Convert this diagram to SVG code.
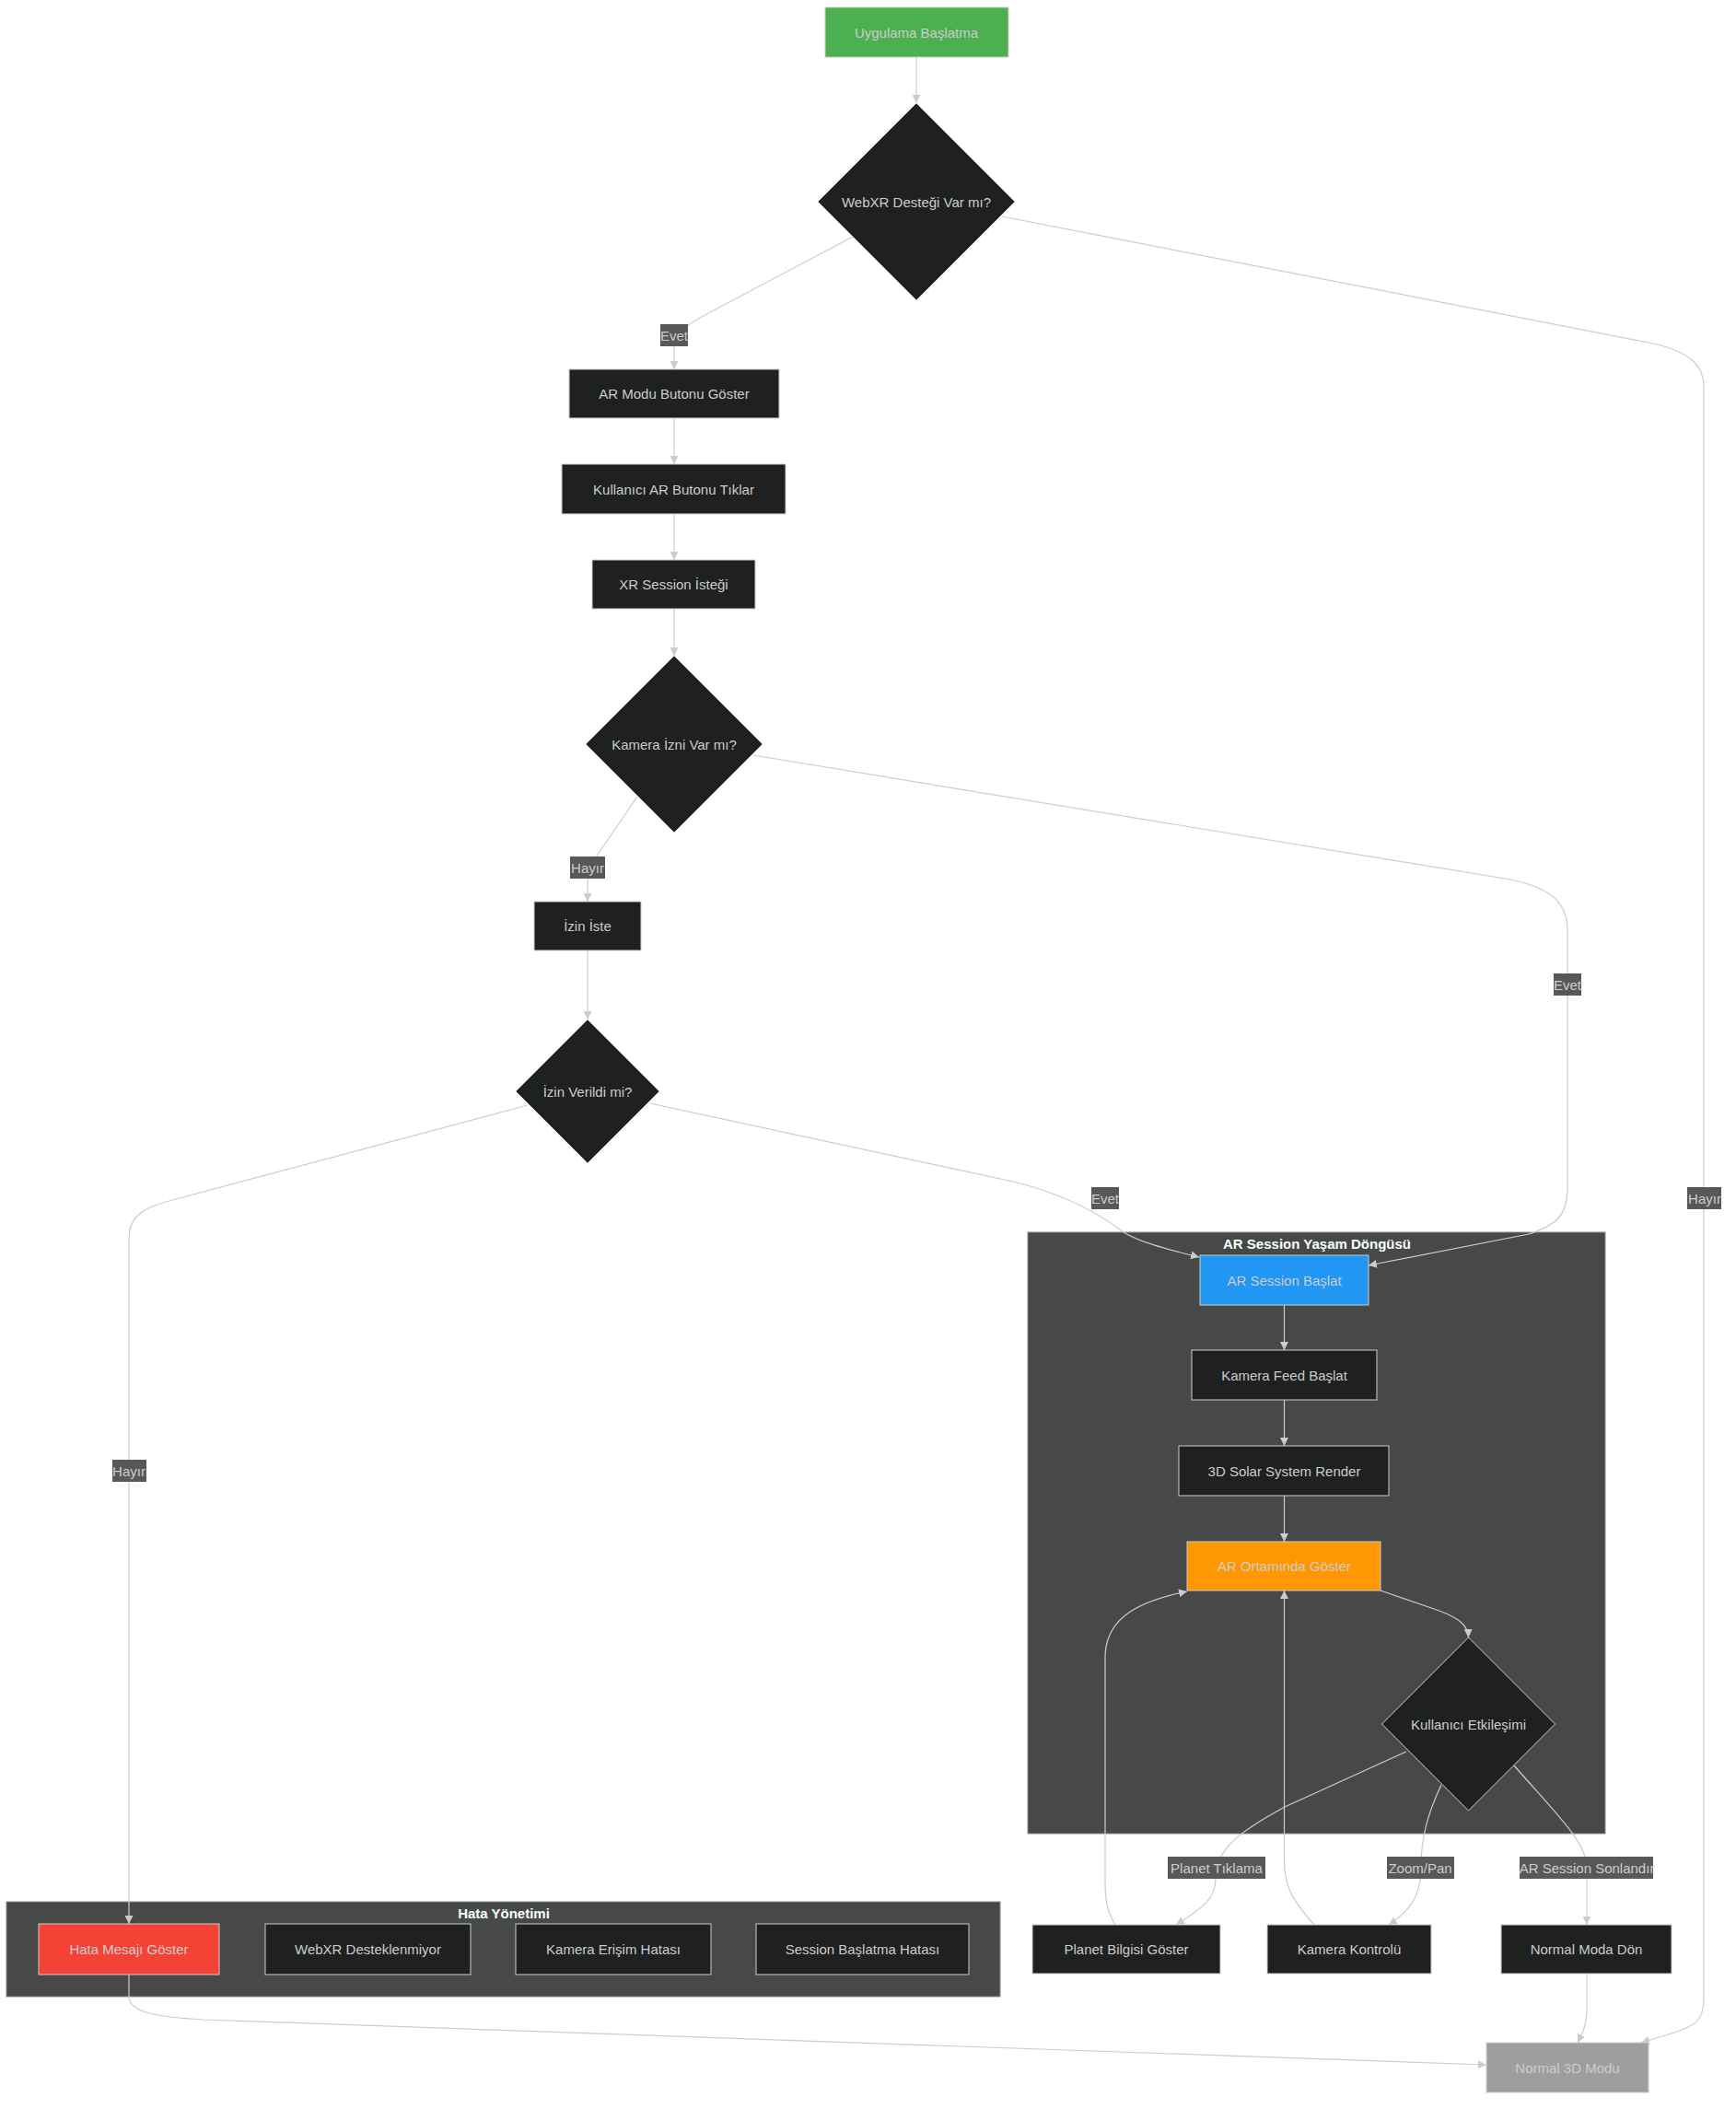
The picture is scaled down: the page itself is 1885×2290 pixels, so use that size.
<svg xmlns="http://www.w3.org/2000/svg" width="1885" height="2290" viewBox="0 0 1885 2290">
<style>
text{font-family:"Liberation Sans",Arial,sans-serif;font-size:15px;fill:#cccccc;text-anchor:middle;dominant-baseline:central}
.n{fill:#1f2020;stroke:#cccccc;stroke-width:1}
.d{fill:#1f2020;stroke:#cccccc;stroke-width:1}
.cl{fill:#474949;stroke:#8a8a8a;stroke-width:1}
.ct{fill:#f9fffe;font-size:15px;font-weight:bold}
.e{fill:none;stroke:#cccccc;stroke-width:1.2;marker-end:url(#arr)}
.lb{fill:#585858}
.lt{font-size:15px;fill:#cccccc}
</style>
<defs>
<marker id="arr" viewBox="0 0 10 10" refX="10" refY="5" markerUnits="userSpaceOnUse" markerWidth="9" markerHeight="9" orient="auto">
<path d="M0,0 L10,5 L0,10 z" fill="#cccccc"/>
</marker>
</defs>
<rect width="1885" height="2290" fill="#ffffff"/>

<g id="cluster-ar">
<rect class="cl" x="1116" y="1338" width="627" height="653"/>
<text class="ct" x="1430" y="1350">AR Session Yaşam Döngüsü</text>
</g>
<g id="cluster-hata">
<rect class="cl" x="7" y="2065" width="1079" height="103"/>
<text class="ct" x="547" y="2077">Hata Yönetimi</text>
</g>

<g id="connectors">
<path class="e" d="M995,62 L995,112"/>
<path class="e" d="M926,257 L760,345 Q732,360 732,380 L732,401"/>
<path class="e" d="M732,454 L732,504"/>
<path class="e" d="M732,558 L732,608"/>
<path class="e" d="M732,661 L732,712"/>
<path class="e" d="M692,865 L660,912 Q638,940 638,960 L638,979"/>
<path class="e" d="M818,820 L1640,955 C1690,965 1702,985 1702,1010 L1702,1290 C1702,1320 1690,1330 1660,1340 L1486,1374"/>
<path class="e" d="M638,1032 L638,1107"/>
<path class="e" d="M706,1198 L1100,1283 C1150,1295 1190,1315 1220,1338 C1240,1350 1270,1357 1302,1365"/>
<path class="e" d="M573,1200 L180,1305 C150,1313 140,1325 140,1345 L140,2089"/>
<path class="e" d="M1088,235 L1790,372 C1840,382 1850,400 1850,420 L1850,2170 C1850,2195 1840,2200 1815,2208 L1782,2218"/>
<path class="e" d="M1394.5,1417 L1394.5,1466"/>
<path class="e" d="M1394.5,1520 L1394.5,1570"/>
<path class="e" d="M1394.5,1624 L1394.5,1674"/>
<path class="e" d="M1499,1727 L1560,1748 C1585,1757 1594,1765 1594.5,1778"/>
<path class="e" d="M1527,1902 L1395,1962 C1340,1992 1320,2010 1320,2040 C1320,2065 1300,2075 1277,2090"/>
<path class="e" d="M1565,1938 C1550,1970 1543,1995 1543,2028 C1543,2060 1530,2075 1508,2090"/>
<path class="e" d="M1644,1917 C1690,1970 1723,2000 1723,2028 L1723,2090"/>
<path class="e" d="M1211,2090 C1202,2075 1200,2065 1200,2040 L1200,1800 C1200,1760 1230,1740 1289,1728"/>
<path class="e" d="M1427,2090 C1405,2065 1394.5,2050 1394.5,2020 L1394.5,1727"/>
<path class="e" d="M1723,2143 L1723,2180 C1723,2200 1718,2208 1713,2218"/>
<path class="e" d="M140,2144 L140,2168 C140,2185 170,2190 220,2193 L1614,2242"/>
</g>

<g id="edge-labels">
<rect class="lb" x="717" y="352" width="30" height="24"/><text class="lt" x="732" y="364">Evet</text>
<rect class="lb" x="619" y="930" width="38" height="24"/><text class="lt" x="638" y="942">Hayır</text>
<rect class="lb" x="1687" y="1057" width="30" height="24"/><text class="lt" x="1702" y="1069">Evet</text>
<rect class="lb" x="1185" y="1289" width="30" height="24"/><text class="lt" x="1200" y="1301">Evet</text>
<rect class="lb" x="122" y="1585" width="37" height="24"/><text class="lt" x="140" y="1597">Hayır</text>
<rect class="lb" x="1832" y="1289" width="37" height="24"/><text class="lt" x="1851" y="1301">Hayır</text>
<rect class="lb" x="1268" y="2016" width="106" height="24"/><text class="lt" x="1321" y="2028">Planet Tıklama</text>
<rect class="lb" x="1506" y="2016" width="73" height="24"/><text class="lt" x="1542" y="2028">Zoom/Pan</text>
<rect class="lb" x="1650" y="2016" width="145" height="24"/><text class="lt" x="1723" y="2028">AR Session Sonlandır</text>
</g>

<g id="n-start"><rect class="n" x="896" y="8" width="199" height="54" style="fill:#4CAF50"/><text x="995" y="35">Uygulama Başlatma</text></g>
<g id="n-webxr"><polygon class="d" points="995,112 1102,219 995,326 888,219"/><text x="995" y="219">WebXR Desteği Var mı?</text></g>
<g id="n-armodu"><rect class="n" x="618" y="401" width="228" height="53"/><text x="732" y="427.5">AR Modu Butonu Göster</text></g>
<g id="n-kullanici"><rect class="n" x="610" y="504" width="243" height="54"/><text x="731.5" y="531">Kullanıcı AR Butonu Tıklar</text></g>
<g id="n-xrsession"><rect class="n" x="643" y="608" width="177" height="53"/><text x="731.5" y="634.5">XR Session İsteği</text></g>
<g id="n-kamerasor"><polygon class="d" points="732,712 828,808 732,904 636,808"/><text x="732" y="808">Kamera İzni Var mı?</text></g>
<g id="n-izniste"><rect class="n" x="580" y="979" width="116" height="53"/><text x="638" y="1005.5">İzin İste</text></g>
<g id="n-izinverildi"><polygon class="d" points="638,1107 716,1185 638,1263 560,1185"/><text x="638" y="1185">İzin Verildi mi?</text></g>

<g id="n-arstart"><rect class="n" x="1303" y="1363" width="183" height="54" style="fill:#2196F3"/><text x="1394.5" y="1390">AR Session Başlat</text></g>
<g id="n-feed"><rect class="n" x="1294" y="1466" width="201" height="54"/><text x="1394.5" y="1493">Kamera Feed Başlat</text></g>
<g id="n-solar"><rect class="n" x="1280" y="1570" width="228" height="54"/><text x="1394.5" y="1597">3D Solar System Render</text></g>
<g id="n-arort"><rect class="n" x="1289" y="1674" width="210" height="53" style="fill:#FF9800"/><text x="1394.5" y="1700.5">AR Ortamında Göster</text></g>
<g id="n-etkilesim"><polygon class="d" points="1594.5,1778 1688.5,1872 1594.5,1966 1500.5,1872"/><text x="1594.5" y="1872">Kullanıcı Etkileşimi</text></g>

<g id="n-planet"><rect class="n" x="1121" y="2090" width="204" height="53"/><text x="1223" y="2116.5">Planet Bilgisi Göster</text></g>
<g id="n-kamerak"><rect class="n" x="1376" y="2090" width="178" height="53"/><text x="1465" y="2116.5">Kamera Kontrolü</text></g>
<g id="n-normalmoda"><rect class="n" x="1630" y="2090" width="185" height="53"/><text x="1722.5" y="2116.5">Normal Moda Dön</text></g>
<g id="n-normal3d"><rect class="n" x="1614" y="2218" width="176" height="54" style="fill:#9E9E9E"/><text x="1702" y="2245">Normal 3D Modu</text></g>

<g id="n-hatamsg"><rect class="n" x="42" y="2089" width="196" height="55" style="fill:#F44336"/><text x="140" y="2116.5">Hata Mesajı Göster</text></g>
<g id="n-webxrdes"><rect class="n" x="288" y="2089" width="223" height="55"/><text x="399.5" y="2116.5">WebXR Desteklenmiyor</text></g>
<g id="n-kameraerr"><rect class="n" x="560" y="2089" width="212" height="55"/><text x="666" y="2116.5">Kamera Erişim Hatası</text></g>
<g id="n-sessionerr"><rect class="n" x="821" y="2089" width="231" height="55"/><text x="936.5" y="2116.5">Session Başlatma Hatası</text></g>
</svg>
